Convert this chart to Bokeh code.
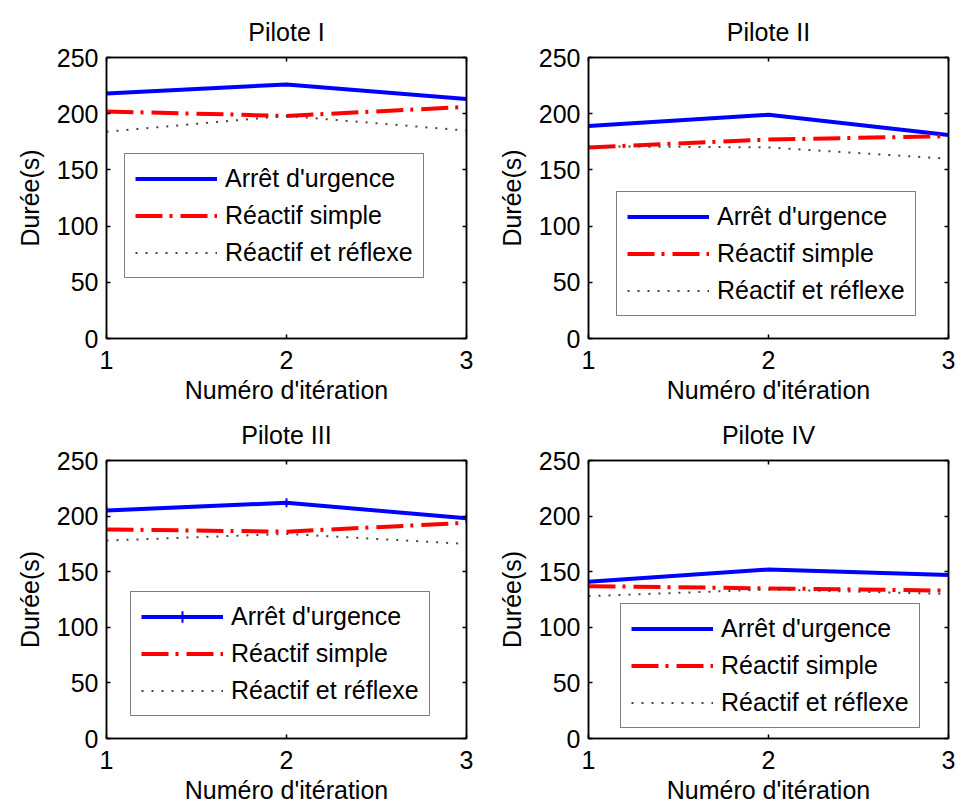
from bokeh.plotting import figure
from bokeh.layouts import column, row
from bokeh.models import LinearAxis, Legend, LegendItem, FixedTicker, Range1d
from bokeh.embed import file_html
from bokeh.resources import INLINE

iterations = [1, 2, 3]
titles = ["Pilote I", "Pilote II", "Pilote III", "Pilote IV"]
series_names = ["Arrêt d'urgence", "Réactif simple", "Réactif et réflexe"]
x_ticks = [1, 2, 3]
y_ticks = [0, 50, 100, 150, 200, 250]

p1_arret = [218, 226, 213]
p1_simple = [202, 198, 206]
p1_reflexe = [184, 198, 185]

p2_arret = [189, 199, 181]
p2_simple = [170, 177, 180]
p2_reflexe = [171, 170, 160]

p3_arret = [205, 212, 198]
p3_simple = [188, 186, 194]
p3_reflexe = [178, 184, 175]

p4_arret = [141, 152, 147]
p4_simple = [137, 135, 133]
p4_reflexe = [128, 134, 130]

data = [
    (p1_arret, p1_simple, p1_reflexe),
    (p2_arret, p2_simple, p2_reflexe),
    (p3_arret, p3_simple, p3_reflexe),
    (p4_arret, p4_simple, p4_reflexe),
]

FONT = "Liberation Sans"
FS = "25px"

# (min_border_left, min_border_right, min_border_top, min_border_bottom, frame_height, legend loc)
layout_cfg = [
    (106, 16, 57, 64, 281, (18, 60)),
    (106, 8, 57, 64, 281, (28, 22)),
    (106, 16, 50, 70, 278, (24, 22)),
    (106, 8, 50, 70, 278, (32, 10)),
]


def style_axis(ax, show_labels):
    ax.axis_line_color = "black"
    ax.axis_line_width = 1.5
    ax.major_tick_in = 4
    ax.major_tick_out = 0
    ax.major_tick_line_color = "black"
    ax.major_tick_line_width = 1.5
    ax.minor_tick_line_color = None
    ax.major_label_text_font = FONT
    ax.major_label_text_font_size = FS if show_labels else "1px"
    ax.major_label_text_color = "black" if show_labels else None
    ax.axis_label_text_font = FONT
    ax.axis_label_text_font_size = FS
    ax.axis_label_text_font_style = "normal"
    ax.axis_label_text_color = "black"


figs = []
for i in range(4):
    ml, mr, mt, mb, fh, loc = layout_cfg[i]
    p = figure(frame_width=360, frame_height=fh,
               min_border_left=ml, min_border_right=mr,
               min_border_top=mt, min_border_bottom=mb,
               x_range=Range1d(1, 3), y_range=Range1d(0, 250),
               output_backend="svg", toolbar_location=None,
               title=titles[i])
    p.title.text_font = FONT
    p.title.text_font_size = FS
    p.title.text_font_style = "normal"
    p.title.align = "center"
    p.title.text_color = "black"
    p.title.standoff = 24
    p.grid.visible = False
    p.outline_line_color = "black"
    p.outline_line_width = 1.5
    p.background_fill_color = "white"
    p.border_fill_color = "white"

    bottom_ax = p.below[0]
    left_ax = p.left[0]
    top_ax = LinearAxis()
    right_ax = LinearAxis()
    p.add_layout(top_ax, "above")
    p.add_layout(right_ax, "right")

    for ax in (bottom_ax, top_ax):
        style_axis(ax, ax is bottom_ax)
        ax.ticker = FixedTicker(ticks=x_ticks)
    for ax in (left_ax, right_ax):
        style_axis(ax, ax is left_ax)
        ax.ticker = FixedTicker(ticks=y_ticks)
    bottom_ax.axis_label = "Numéro d'itération"
    left_ax.axis_label = "Durée(s)"
    bottom_ax.major_label_standoff = 12
    bottom_ax.axis_label_standoff = 4
    left_ax.major_label_standoff = 8
    left_ax.axis_label_standoff = 10
    top_ax.major_label_standoff = 0
    right_ax.major_label_standoff = 0

    a, s, r = data[i]
    l1 = p.line(iterations, a, line_color="#0000ff", line_width=4)
    items_r1 = [l1]
    if i == 2:
        m1 = p.scatter(iterations, a, marker="cross", size=9,
                       line_color="#0000ff", line_width=2)
        items_r1.append(m1)
    l2 = p.line(iterations, s, line_color="#ff0000", line_width=4,
                line_dash="27 7 3 8")
    l3 = p.line(iterations, r, line_color="#444444", line_width=2,
                line_dash="2 8")

    legend = Legend(items=[
        LegendItem(label=series_names[0], renderers=items_r1),
        LegendItem(label=series_names[1], renderers=[l2]),
        LegendItem(label=series_names[2], renderers=[l3]),
    ], location=loc)
    legend.label_text_font = FONT
    legend.label_text_font_size = FS
    legend.label_text_color = "black"
    legend.glyph_width = 82
    legend.glyph_height = 29
    legend.label_height = 29
    legend.label_standoff = 8
    legend.spacing = 8
    legend.padding = 10
    legend.margin = 0
    legend.border_line_color = "black"
    legend.border_line_width = 1.5
    legend.background_fill_color = "white"
    legend.background_fill_alpha = 1.0
    p.add_layout(legend, "center")
    figs.append(p)

layout = column(row(figs[0], figs[1]), row(figs[2], figs[3]))

open("out.html", "w").write(file_html(layout, INLINE))
